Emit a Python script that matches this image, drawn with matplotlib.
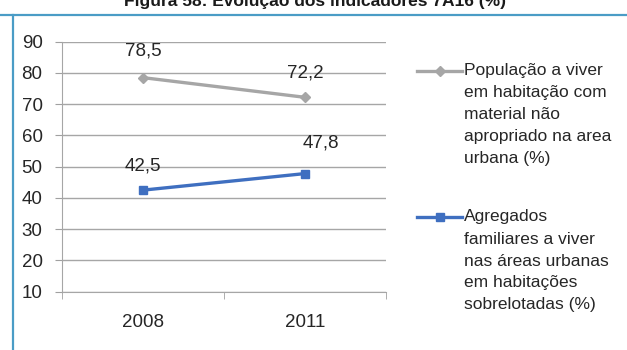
import matplotlib.pyplot as plt
from matplotlib.lines import Line2D

plt.rcParams['font.family'] = ['Liberation Sans', 'DejaVu Sans']

years = ['2008', '2011']
pop_material = [78.5, 72.2]
agregados = [42.5, 47.8]
names = [['População a viver', 'em habitação com', 'material não',
          'apropriado na area', 'urbana (%)'],
         ['Agregados', 'familiares a viver', 'nas áreas urbanas',
          'em habitações', 'sobrelotadas (%)']]
title = 'Figura 58: Evolução dos indicadores 7A16 (%)'

gray = '#a6a6a6'
blue = '#3f6fc0'
txt = '#262626'
W, H = 627, 350

fig = plt.figure(figsize=(W / 100, H / 100), dpi=100)

# frame lines (top and left) in light blue
fig.add_artist(Line2D([0, 1], [1 - 15 / H, 1 - 15 / H], color='#4a9cc6', lw=1.6))
fig.add_artist(Line2D([13 / W, 13 / W], [0, 1 - 15 / H], color='#4a9cc6', lw=1.6))

fig.text(315 / W, 1 - 6 / H, title, ha='center', va='baseline', fontsize=12.5,
         fontweight='bold', color='#1a1a1a')

ax = fig.add_axes([62 / W, 1 - 291.7 / H, 324 / W, 250 / H])
x = list(range(len(years)))
ax.plot(x, pop_material, color=gray, lw=2.4, marker='D', ms=5.5, zorder=3)
ax.plot(x, agregados, color=blue, lw=2.4, marker='s', ms=6, zorder=3)

ax.set_xlim(-0.5, 1.5)
ax.set_ylim(10, 90)
ax.set_yticks(range(10, 91, 10))
ax.set_xticks(x)
ax.set_xticklabels(years)
ax.set_xticks([-0.5, 0.5, 1.5], minor=True)
ax.tick_params(axis='x', which='major', length=0, pad=16, labelsize=13.5, labelcolor=txt)
ax.tick_params(axis='x', which='minor', length=5, color='#a0a0a0', direction='out')
ax.tick_params(axis='y', length=5, color='#a0a0a0', labelsize=13.5, labelcolor=txt, pad=9)
ax.grid(axis='y', color='#a6a6a6', lw=1)
ax.set_axisbelow(True)
for s in ['top', 'right']:
    ax.spines[s].set_visible(False)
for s in ['left', 'bottom']:
    ax.spines[s].set_color('#a6a6a6')

# value labels, offsets in pixels
pop_offs = [(0, 27), (0, 24)]
agr_offs = [(0, 24), (16, 31)]
for i in x:
    ax.annotate(f'{pop_material[i]:.1f}'.replace('.', ','), (i, pop_material[i]),
                xytext=pop_offs[i], textcoords='offset pixels', ha='center',
                va='center', fontsize=13.5, color=txt)
    ax.annotate(f'{agregados[i]:.1f}'.replace('.', ','), (i, agregados[i]),
                xytext=agr_offs[i], textcoords='offset pixels', ha='center',
                va='center', fontsize=13.5, color=txt)

# legend drawn by hand so the key sits on the first text line
for lines, col, mk, ms, ytop in [(names[0], gray, 'D', 5.5, 71), (names[1], blue, 's', 6, 217)]:
    yy = 1 - ytop / H
    fig.add_artist(Line2D([417 / W, 462 / W], [yy, yy], color=col, lw=2.4))
    fig.add_artist(Line2D([440 / W], [yy], color=col, marker=mk, ms=ms, lw=0))
    for k, line in enumerate(lines):
        fig.text(464 / W, 1 - (ytop + 22 * k) / H, line, ha='left', va='center',
                 fontsize=12.5, color=txt)

fig.savefig('out.png', dpi=100)
